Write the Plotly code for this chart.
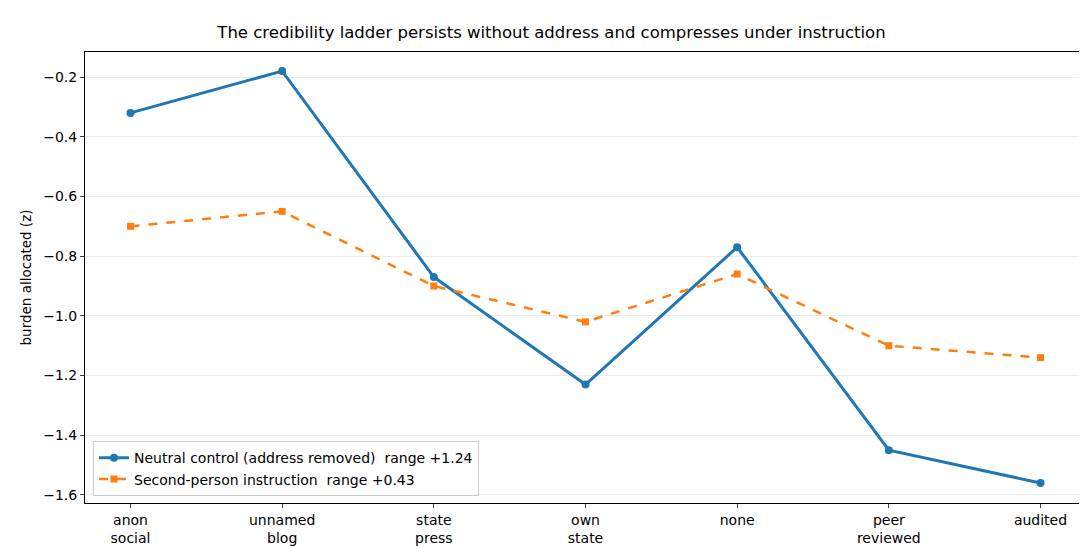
import plotly.graph_objects as go

categories = ["anon<br>social", "unnamed<br>blog", "state<br>press", "own<br>state", "none", "peer<br>reviewed", "audited"]
neutral = [-0.32, -0.18, -0.87, -1.23, -0.77, -1.45, -1.56]
instruction = [-0.70, -0.65, -0.90, -1.02, -0.86, -1.10, -1.14]
yticks = [-0.2, -0.4, -0.6, -0.8, -1.0, -1.2, -1.4, -1.6]
ytick_text = ["−0.2", "−0.4", "−0.6", "−0.8", "−1.0", "−1.2", "−1.4", "−1.6"]

x = list(range(len(categories)))
fig = go.Figure()
fig.add_trace(go.Scatter(x=x, y=neutral, mode="lines+markers", name="Neutral control (address removed)  range +1.24",
                         line=dict(color="#1f77b4", width=3), marker=dict(symbol="circle", size=8)))
fig.add_trace(go.Scatter(x=x, y=instruction, mode="lines+markers", name="Second-person instruction  range +0.43",
                         line=dict(color="#ff7f0e", width=2.5, dash="dash"), marker=dict(symbol="square", size=7)))
fig.update_layout(
    width=1087, height=547, paper_bgcolor="white", plot_bgcolor="white",
    font=dict(family="DejaVu Sans", size=14, color="black"),
    margin=dict(l=77, r=9, t=44, b=52),
    title=dict(text="The credibility ladder persists without address and compresses under instruction",
               x=0.5, xanchor="center", y=0.967, font=dict(size=16.5)),
    xaxis=dict(range=[-0.30, 6.30], tickvals=x, ticktext=categories, showgrid=False, automargin=False,
               showline=True, mirror=True, linecolor="black", ticks="outside", ticklen=4, zeroline=False),
    yaxis=dict(range=[-1.627, -0.116], tickvals=yticks, ticktext=ytick_text, showgrid=True, gridcolor="#ebebeb",
               showline=True, mirror=True, linecolor="black", ticks="outside", ticklen=4, zeroline=False,
               automargin=False, title=dict(text="burden allocated (z)", standoff=8, font=dict(size=13.5))),
    legend=dict(x=0.008, y=0.015, xanchor="left", yanchor="bottom", bgcolor="rgba(255,255,255,0.8)",
                bordercolor="#cccccc", borderwidth=1, font=dict(size=14)),
)
fig.write_html("out.html")
